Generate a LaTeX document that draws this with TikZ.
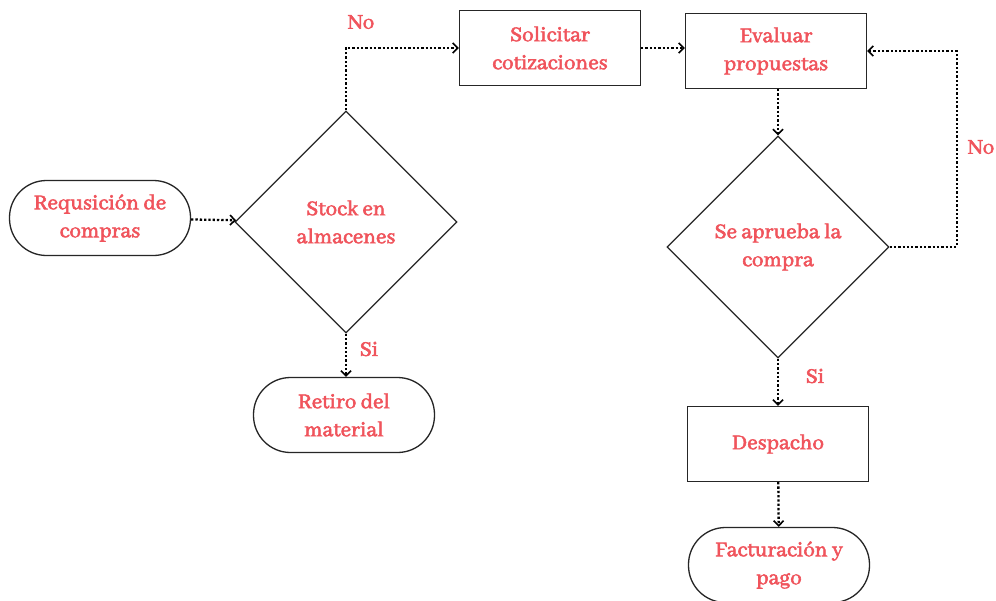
\documentclass[tikz,border=0pt]{standalone}
\usepackage{fontspec}
\setmainfont{Abhaya Libre}[AutoFakeBold=2.5]
\usepackage{xcolor}
\usetikzlibrary{arrows.meta}
\usetikzlibrary{shapes.geometric}
\definecolor{txtred}{RGB}{240,84,92}
\tikzset{
  txt/.style={text=txtred, font=\bfseries\fontsize{23}{28}\selectfont, align=center},
  caja/.style={txt, draw=black!85, line width=1.3pt, minimum width=181pt, minimum height=75pt, inner sep=0pt},
  termino/.style={caja, rounded corners=37pt},
  decision/.style={txt, draw=black!85, diamond, line width=1.3pt, minimum width=222pt, minimum height=222pt, inner sep=0pt},
  flecha/.style={line width=2.3pt, dash pattern=on 2.3pt off 2pt, -{Straight Barb[length=5pt,width=10pt,line width=1.6pt]}},
  etiq/.style={txt}
}

\begin{document}
\begin{tikzpicture}[x=1pt,y=-1pt]
      \useasboundingbox[fill=white] (0,0) rectangle (996,600);
      % nodos
      \node[termino]  (req)     at (100,218) {Requsición de\\compras};
      \node[decision] (stock)   at (346,222) {Stock en\\almacenes};
      \node[caja]     (solic)   at (550,48)  {Solicitar\\cotizaciones};
      \node[caja]     (eval)    at (776,51)  {Evaluar\\propuestas};
      \node[decision] (aprueba) at (778,247) {Se aprueba la\\compra};
      \node[termino]  (retiro)  at (344,415) {Retiro del\\material};
      \node[caja]     (desp)    at (778,444) {Despacho};
      \node[termino]  (fact)    at (779,565) {Facturación y\\pago};

      % etiquetas
      \node[etiq] (no1) at (361,22)  {No};
      \node[etiq] (no2) at (981,147) {No};
      \node[etiq] (si1) at (369,349) {Si};
      \node[etiq] (si2) at (815,376) {Si};

      % conectores
      \draw[flecha] (req) -- (stock);
      \draw[flecha] (stock.north) |- (solic.west);
      \draw[flecha] (solic) -- (solic -| eval.west);
      \draw[flecha] (eval.south -| aprueba.north) -- (aprueba.north);
      \draw[flecha] (aprueba.east) -- ++(67,0) |- (eval.east);
      \draw[flecha] (stock.south) -- (stock.south |- retiro.north);
      \draw[flecha] (aprueba.south) -- (desp.north);
      \draw[flecha] (desp) -- (fact);
\end{tikzpicture}
\end{document}
